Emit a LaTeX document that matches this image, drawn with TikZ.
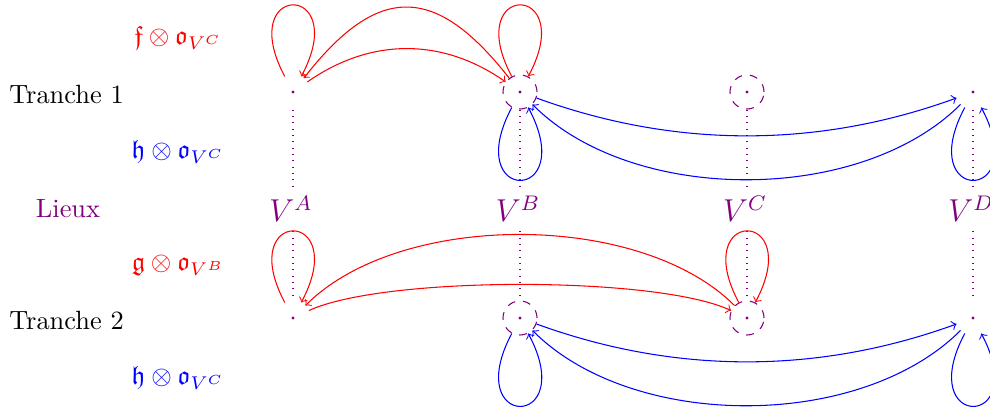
\documentclass[tikz,border=0pt]{standalone}
\usepackage{amssymb}
\begin{document}
\begin{tikzpicture}[x=0.379pt,y=0.379pt,
  lieu/.style={circle,minimum size=12.9pt,inner sep=0pt},
  lieuc/.style={lieu,draw=violet,dashed},
  vlab/.style={text=violet,font=\large},
  side/.style={anchor=west},
  redarr/.style={red,->},
  bluearr/.style={blue,->},
  vline/.style={violet,dotted}]
\useasboundingbox (0,0) rectangle (990,412);

% lieux nodes, tranche 1
\node[lieu]  (A1) at (293,320) {};
\node[lieuc] (B1) at (520,320) {};
\node[lieuc] (C1) at (747,320) {};
\node[lieu]  (D1) at (973,320) {};
% tranche 2
\node[lieu]  (A2) at (293,94) {};
\node[lieuc] (B2) at (520,94) {};
\node[lieuc] (C2) at (747,94) {};
\node[lieu]  (D2) at (973,94) {};
\foreach \n in {A1,B1,C1,D1,A2,B2,C2,D2}
  \fill[violet] (\n.center) circle[radius=1.7];

% V labels
\node[vlab] (VA) at (291,203) {$V^{A}$};
\node[vlab] (VB) at (518,203) {$V^{B}$};
\node[vlab] (VC) at (745,203) {$V^{C}$};
\node[vlab] (VD) at (971,203) {$V^{D}$};

\foreach \c in {A,B,C,D}{
  \draw[vline] (\c1) -- (\c1 |- V\c.north);
  \draw[vline] (\c1 |- V\c.south) -- (\c2);
}

% row labels
\node[side] (t1) at (0,317) {Tranche 1};
\node[side] (t2) at (0,91) {Tranche 2};
\node[text=violet] (li) at (68,203) {Lieux};
\node[red]  (lf) at (178,374) {$\mathfrak{f}\otimes\mathfrak{o}_{V^C}$};
\node[blue] (lh1) at (178,260) {$\mathfrak{h}\otimes\mathfrak{o}_{V^C}$};
\node[red]  (lg) at (178,147) {$\mathfrak{g}\otimes\mathfrak{o}_{V^B}$};
\node[blue] (lh2) at (178,34) {$\mathfrak{h}\otimes\mathfrak{o}_{V^C}$};

% tranche 1, red
\draw[redarr] (A1.118) .. controls +(118:108) and +(62:108) .. (A1.62);
\draw[redarr] (B1.118) .. controls +(118:108) and +(62:108) .. (B1.62);
\draw[redarr] (B1) to[out=128,in=52,looseness=1.5] (A1);
\draw[redarr] (A1) to[out=35,in=145] (B1);
% tranche 1, blue
\draw[bluearr] (B1.242) .. controls +(242:110) and +(298:110) .. (B1.298);
\draw[bluearr] (D1.242) .. controls +(242:110) and +(298:110) .. (D1.298);
\draw[bluearr] (B1) to[out=-20,in=200,looseness=0.9] (D1);
\draw[bluearr] (D1) to[out=225,in=-45,looseness=0.85] (B1);

% tranche 2, red
\draw[redarr] (A2.118) .. controls +(118:108) and +(62:108) .. (A2.62);
\draw[redarr] (C2.118) .. controls +(118:108) and +(62:108) .. (C2.62);
\draw[redarr] (C2) to[out=135,in=45,looseness=0.8] (A2);
\draw[redarr] (A2) to[out=25,in=155,looseness=0.5] (C2);
% tranche 2, blue
\draw[bluearr] (B2.242) .. controls +(242:110) and +(298:110) .. (B2.298);
\draw[bluearr] (D2.242) .. controls +(242:110) and +(298:110) .. (D2.298);
\draw[bluearr] (B2) to[out=-20,in=200,looseness=0.9] (D2);
\draw[bluearr] (D2) to[out=225,in=-45,looseness=0.85] (B2);
\end{tikzpicture}
\end{document}
